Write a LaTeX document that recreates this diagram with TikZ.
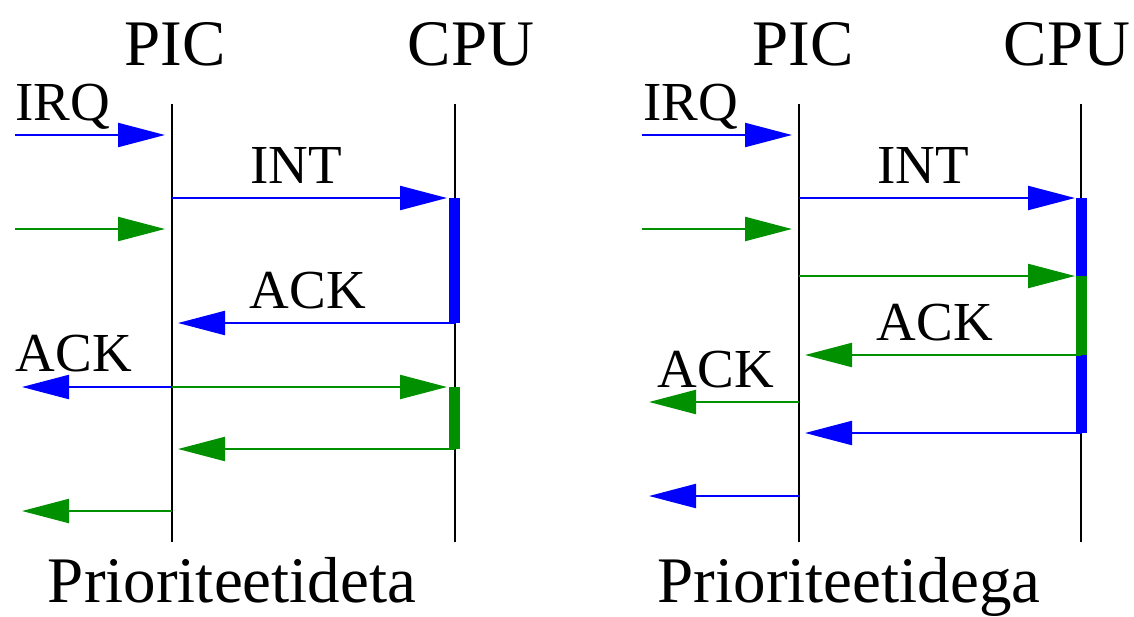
\documentclass[tikz,border=0pt]{standalone}
\usepackage{fontspec}
\setmainfont{Liberation Serif}
\usetikzlibrary{arrows.meta}
\definecolor{sigblue}{RGB}{0,0,255}
\definecolor{siggreen}{RGB}{0,144,0}
\begin{document}
\begin{tikzpicture}[x=1pt,y=-1pt,
  title/.style={anchor=base,inner sep=0pt,font=\fontsize{65}{70}\selectfont},
  lbl/.style={anchor=base,inner sep=0pt,font=\fontsize{55}{60}\selectfont},
  life/.style={line width=2pt,black},
  msg/.style={line width=2.2pt,-{Triangle[length=47pt,width=24pt]}},
  bar/.style={line width=11pt}]
\useasboundingbox (0,0) rectangle (1134,616);

% ---------- left panel ----------
\node[title] (picL) at (175,65) {PIC};
\node[title] (cpuL) at (471,65) {CPU};
\coordinate (pLt) at (172,104); \coordinate (pLb) at (172,542);
\coordinate (cLt) at (455,104); \coordinate (cLb) at (455,542);
\draw[life] (pLt) -- (pLb);
\draw[life] (cLt) -- (cLb);

\coordinate (a1s) at (15,135);  \coordinate (a1e) at (165,135);
\coordinate (a2s) at (172,198); \coordinate (a2e) at (447,198);
\coordinate (a3s) at (15,229);  \coordinate (a3e) at (165,229);
\coordinate (b1s) at (454,198); \coordinate (b1e) at (454,323);
\coordinate (a4s) at (455,323); \coordinate (a4e) at (178,323);
\coordinate (a5s) at (172,387); \coordinate (a5e) at (22,387);
\coordinate (a6e) at (447,387);
\coordinate (b2s) at (454,387); \coordinate (b2e) at (454,449);
\coordinate (a7s) at (455,449); \coordinate (a7e) at (178,449);
\coordinate (a8s) at (172,511); \coordinate (a8e) at (22,511);

\draw[bar,sigblue] (b1s) -- (b1e);
\draw[bar,siggreen] (b2s) -- (b2e);
\draw[msg,sigblue] (a1s) -- (a1e);
\draw[msg,sigblue] (a2s) -- (a2e);
\draw[msg,siggreen] (a3s) -- (a3e);
\draw[msg,sigblue] (a4s) -- (a4e);
\draw[msg,sigblue] (a5s) -- (a5e);
\draw[msg,siggreen] (a5s) -- (a6e);
\draw[msg,siggreen] (a7s) -- (a7e);
\draw[msg,siggreen] (a8s) -- (a8e);

\node[lbl,anchor=base west] (irqL) at (15,120) {IRQ};
\node[lbl] (intL) at (296,183) {INT};
\node[lbl] (ackL1) at (308,308) {ACK};
\node[lbl] (ackL2) at (74,371) {ACK};
\node[title] (capL) at (232,602) {Prioriteetideta};

% ---------- right panel ----------
\node[title] (picR) at (803,65) {PIC};
\node[title] (cpuR) at (1067,65) {CPU};
\coordinate (pRt) at (799,104); \coordinate (pRb) at (799,542);
\coordinate (cRt) at (1081,104); \coordinate (cRb) at (1081,542);
\draw[life] (pRt) -- (pRb);
\draw[life] (cRt) -- (cRb);

\coordinate (r1s) at (642,135);  \coordinate (r1e) at (792,135);
\coordinate (r2s) at (799,198);  \coordinate (r2e) at (1075,198);
\coordinate (r3s) at (642,229);  \coordinate (r3e) at (792,229);
\coordinate (r4s) at (799,276);  \coordinate (r4e) at (1075,276);
\coordinate (q1) at (1081,198); \coordinate (q2) at (1081,276);
\coordinate (q3) at (1081,355); \coordinate (q4) at (1081,433);
\coordinate (r5e) at (805,355);
\coordinate (r6s) at (799,402);  \coordinate (r6e) at (649,402);
\coordinate (r7e) at (805,433);
\coordinate (r8s) at (799,496);  \coordinate (r8e) at (649,496);

\draw[bar,sigblue] (q1) -- (q2);
\draw[bar,siggreen] (q2) -- (q3);
\draw[bar,sigblue] (q3) -- (q4);
\draw[msg,sigblue] (r1s) -- (r1e);
\draw[msg,sigblue] (r2s) -- (r2e);
\draw[msg,siggreen] (r3s) -- (r3e);
\draw[msg,siggreen] (r4s) -- (r4e);
\draw[msg,siggreen] (q3) -- (r5e);
\draw[msg,siggreen] (r6s) -- (r6e);
\draw[msg,sigblue] (q4) -- (r7e);
\draw[msg,sigblue] (r8s) -- (r8e);

\node[lbl,anchor=base west] (irqR) at (643,120) {IRQ};
\node[lbl] (intR) at (923,183) {INT};
\node[lbl] (ackR1) at (935,340) {ACK};
\node[lbl] (ackR2) at (716,387) {ACK};
\node[title] (capR) at (849,602) {Prioriteetidega};
\end{tikzpicture}
\end{document}
